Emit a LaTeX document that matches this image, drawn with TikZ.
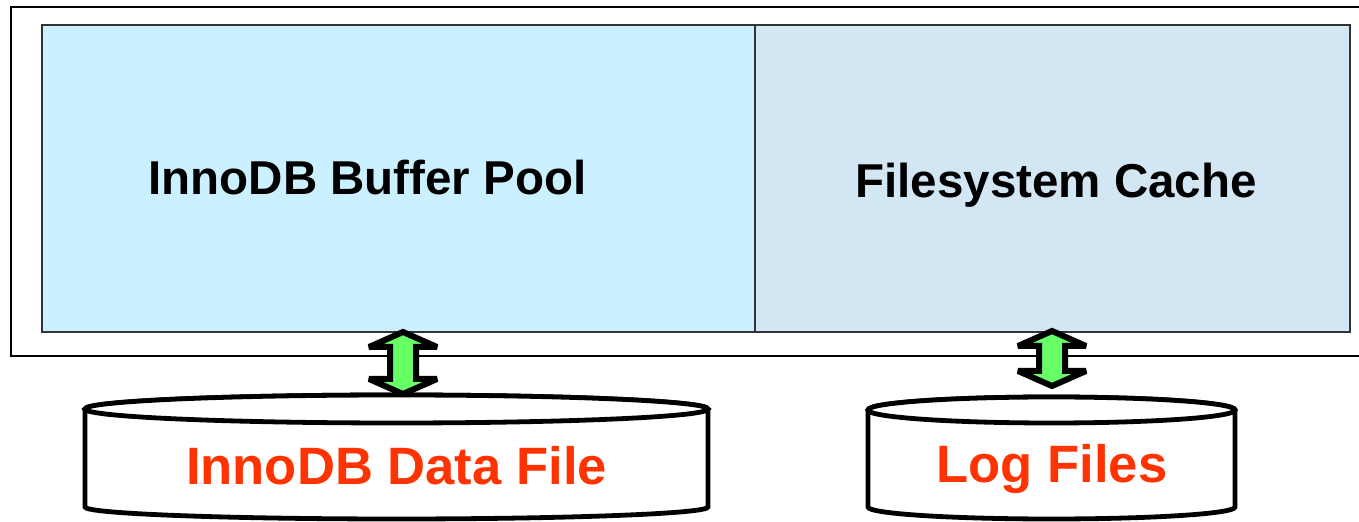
\documentclass[tikz,border=0pt]{standalone}
\usepackage{fontspec}
\setmainfont{Liberation Sans}
\usepackage{tikz}
\definecolor{poolcyan}{HTML}{CBF0FF}
\definecolor{cacheblue}{HTML}{D3E6F4}
\definecolor{arrowgreen}{HTML}{66FF66}
\definecolor{filered}{HTML}{FF3300}

\begin{document}
\begin{tikzpicture}[
    x=0.5pt, y=-0.5pt,
    frame/.style={draw=black, line width=1pt},
    area/.style={draw=black!80, line width=0.8pt, minimum height=153.5pt, inner sep=0pt},
    pool/.style={area, fill=poolcyan, minimum width=376.5pt},
    cache/.style={area, fill=cacheblue, minimum width=297.5pt},
    boxtitle/.style={anchor=base, inner sep=0pt, font=\fontsize{23.75}{28}\selectfont\bfseries},
    disktitle/.style={anchor=base, inner sep=0pt, text=filered, font=\fontsize{26.3}{30}\selectfont\bfseries},
    disk/.style={draw=black, fill=white, line width=2.4pt},
    blockarrow/.style={draw=black, fill=arrowgreen, line width=3pt, line join=miter, miter limit=2}
]
\useasboundingbox (0,0) rectangle (1359,522);
% memory frame, open to the right
\draw[frame] (1362,7) -| (11,356) -- (1362,356);
\node[pool] (pool) at (418.5,178.5) {};
\node[cache] (cache) at (1052.5,178.5) {};
\node[boxtitle] (pooltitle) at (367.5,195) {InnoDB Buffer Pool};
\node[boxtitle] (cachetitle) at (1056,198) {Filesystem Cache};
% disks
\draw[disk] (85,409) -- (85,507) arc[start angle=180, end angle=360, x radius=155.75pt, y radius=6pt]
    -- (708,409) arc[start angle=0, end angle=180, x radius=155.75pt, y radius=7pt] -- cycle;
\draw[disk] (396.5,409) ellipse[x radius=155.75pt, y radius=7pt];
\draw[disk] (868,410) -- (868,507) arc[start angle=180, end angle=360, x radius=91.75pt, y radius=6pt]
    -- (1235,410) arc[start angle=0, end angle=180, x radius=91.75pt, y radius=6.5pt] -- cycle;
\draw[disk] (1051.5,410) ellipse[x radius=91.75pt, y radius=6.5pt];
\node[disktitle] (datafile) at (396.5,485) {InnoDB Data File};
\node[disktitle] (logfiles) at (1052,483) {Log Files};
% two-way transfer arrows
\foreach \ax/\atop/\abot in {403/332/394, 1052/331/386}
    \draw[blockarrow] (\ax,\atop) -- ++(34,15) -- ++(-21,0) -- (\ax+13,\abot-15) -- ++(21,0)
        -- (\ax,\abot) -- ++(-34,-15) -- ++(21,0) -- (\ax-13,\atop+15) -- ++(-21,0) -- cycle;
\end{tikzpicture}
\end{document}
